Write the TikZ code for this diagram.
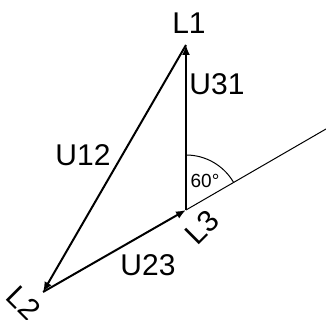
\documentclass[tikz,border=0pt]{standalone}
\usepackage{fontspec}
\setmainfont{Liberation Sans}
\usetikzlibrary{arrows.meta}

\begin{document}
\begin{tikzpicture}[x=0.5pt, y=0.5pt,
    phasor/.style={line width=1pt, -{Latex[length=5pt, width=4pt]}},
    lbl/.style={font=\fontsize{15}{17}\selectfont, inner sep=0pt},
    small/.style={font=\fontsize{9.5}{11}\selectfont, inner sep=0pt}]
  \useasboundingbox (0,0) rectangle (326,320);
  % phasor ends
  \coordinate (p1) at (186,275);
  \coordinate (p2) at (43,28);
  \coordinate (p3) at (186,110);
  \coordinate (ref) at (326,191);
  % reference line and angle
  \draw[line width=0.5pt] (p3) -- (ref);
  \draw[line width=0.5pt] (p3) ++(30:55) arc[start angle=30, end angle=90, radius=55];
  \node[small] (ang) at (205,139) {60°};
  % line voltages
  \draw[phasor] (p3) -- (p1);
  \draw[phasor] (p1) -- (p2);
  \draw[phasor] (p2) -- (p3);
  \node[lbl] (u31) at (217,236) {U31};
  \node[lbl] (u12) at (83,165) {U12};
  \node[lbl] (u23) at (148,55) {U23};
  % phase labels
  \node[lbl] (l1) at (189,297) {L1};
  \node[lbl, rotate=45] (l3) at (202,93) {L3};
  \node[lbl, rotate=-45] (l2) at (24,17) {L2};
\end{tikzpicture}
\end{document}
